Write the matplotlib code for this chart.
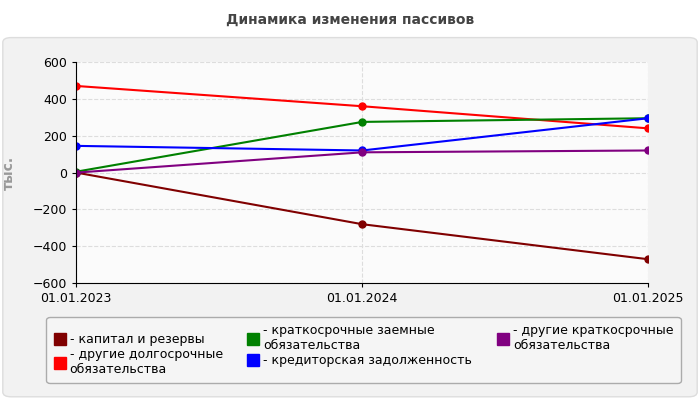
import matplotlib
matplotlib.use("Agg")
import matplotlib.pyplot as plt
from matplotlib.patches import FancyBboxPatch

dates = ["01.01.2023", "01.01.2024", "01.01.2025"]
series = [
    ("капитал и резервы", "#800000", [0, -280, -470]),
    ("другие долгосрочные\nобязательства", "#ff0000", [470, 360, 240]),
    ("краткосрочные заемные\nобязательства", "#008000", [5, 275, 295]),
    ("кредиторская задолженность", "#0000ff", [145, 120, 295]),
    ("другие краткосрочные\nобязательства", "#800080", [0, 110, 120]),
]

plt.rcParams["font.family"] = ["DejaVu Sans"]
fig = plt.figure(figsize=(7, 4), dpi=100)
bg = FancyBboxPatch((0.004, 0.008), 0.992, 0.898, boxstyle="round,pad=0,rounding_size=0.012",
                    transform=fig.transFigure, fc="#f2f2f2", ec="#dddddd", lw=1, zorder=-10)
fig.patches.append(bg)
fig.text(0.5, 0.95, "Динамика изменения пассивов", ha="center", va="center",
         fontsize=10, fontweight="bold", color="#444444")

ax = fig.add_axes([0.109, 0.292, 0.817, 0.553])
ax.set_facecolor("#fbfbfb")
x = range(len(dates))
for name, color, vals in series:
    ax.plot(x, vals, color=color, lw=1.5, marker="o", ms=5, label=name)
ax.set_xlim(0, 2)
ax.set_ylim(-600, 600)
ax.set_yticks(range(-600, 601, 200))
ax.set_xticks(list(x))
ax.set_xticklabels(dates)
ax.tick_params(labelsize=9, colors="#000000", length=3)
ax.grid(True, ls="--", color="#dddddd", lw=0.8)
for s in ["top", "right"]:
    ax.spines[s].set_visible(False)
ax.set_ylabel("тыс.", fontsize=10, fontweight="bold", color="#999999", labelpad=12)

handles, labels = ax.get_legend_handles_labels()
leg = fig.legend(handles, labels, loc="center",
                 bbox_to_anchor=(0.069, 0.045, 0.9, 0.16), ncol=3, mode="expand", fontsize=9,
                 frameon=True, fancybox=True, edgecolor="#999999", facecolor="#f7f7f7",
                 handlelength=1.0, handletextpad=0.3, borderaxespad=0, labelspacing=0.15)
for h in leg.legend_handles:
    h.set_marker("s"); h.set_markersize(9); h.set_linestyle("none")
leg.get_frame().set_boxstyle("round,pad=0.2,rounding_size=0.3")
for t in leg.get_texts():
    t.set_text("- " + t.get_text())
fig.savefig("out.png", dpi=100)
